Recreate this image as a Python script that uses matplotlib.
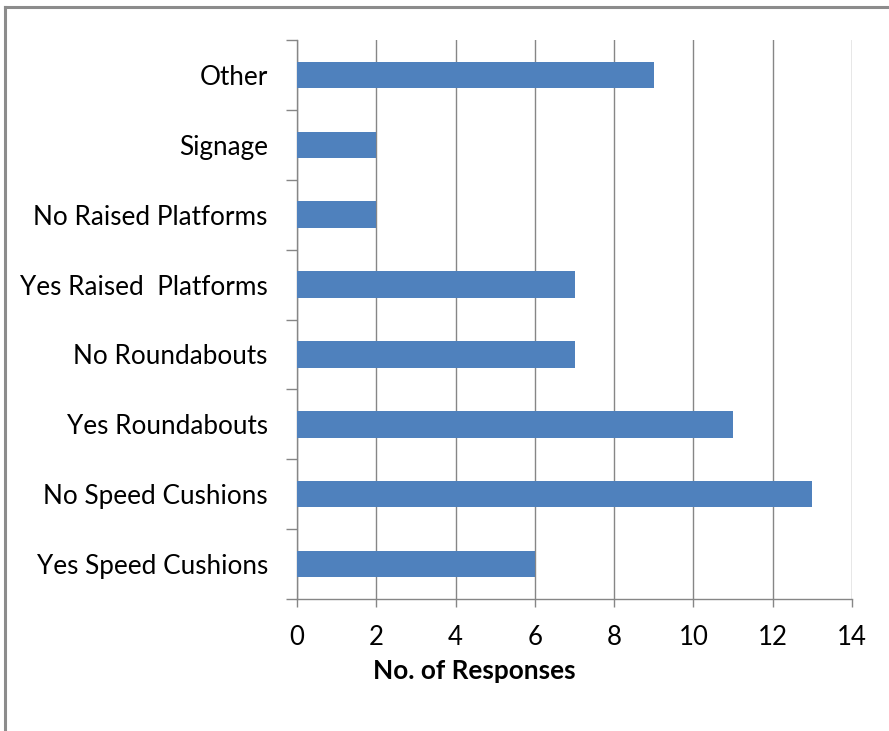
import matplotlib
matplotlib.use("Agg")
import matplotlib.pyplot as plt

categories = ["Yes Speed Cushions", "No Speed Cushions", "Yes Roundabouts",
              "No Roundabouts", "Yes Raised  Platforms", "No Raised Platforms",
              "Signage", "Other"]
responses = [6, 13, 11, 7, 7, 2, 2, 9]
x_ticks = [0, 2, 4, 6, 8, 10, 12, 14]

plt.rcParams["font.family"] = ["Lato", "DejaVu Sans"]

W, H = 889, 731
fig = plt.figure(figsize=(W / 100, H / 100), dpi=100)
fig.patch.set_facecolor("white")

# outer frame (top and left edges visible)
fig.add_artist(plt.Line2D([5 / W, 5 / W], [0, 1 - 7 / H], transform=fig.transFigure,
                          color="#8c8c8c", lw=2.2))
fig.add_artist(plt.Line2D([5 / W, 1], [1 - 7 / H, 1 - 7 / H], transform=fig.transFigure,
                          color="#8c8c8c", lw=2.2))

left, right, top, bottom = 297, 852, 40, 599
ax = fig.add_axes([left / W, 1 - bottom / H, (right - left) / W, (bottom - top) / H])

y = range(len(categories))
ax.barh(y, responses, height=0.38, color="#4f81bd", zorder=3)

ax.set_xlim(0, 14)
ax.set_ylim(-0.5, len(categories) - 0.5)
ax.set_xticks(x_ticks)
ax.set_xticklabels([str(t) for t in x_ticks], fontsize=18.5)
ax.set_yticks(list(y))
ax.set_yticklabels(categories, fontsize=18.8)
ax.tick_params(axis="y", length=0, pad=21)
ax.tick_params(axis="x", length=6, width=1, color="#868686", pad=13)

# boundary ticks on the category axis
ax.set_yticks([i - 0.5 for i in range(len(categories) + 1)], minor=True)
ax.tick_params(axis="y", which="minor", length=8, width=1, color="#868686")

ax.grid(axis="x", color="#868686", lw=1, zorder=0)
for s in ["top", "right"]:
    ax.spines[s].set_visible(False)
for s in ["left", "bottom"]:
    ax.spines[s].set_color("#868686")
    ax.spines[s].set_linewidth(1)

fig.text(474 / W, 1 - 671 / H, "No. of Responses", ha="center", va="center",
         fontsize=18.8, fontweight="bold")

fig.savefig("out.png", dpi=100)
